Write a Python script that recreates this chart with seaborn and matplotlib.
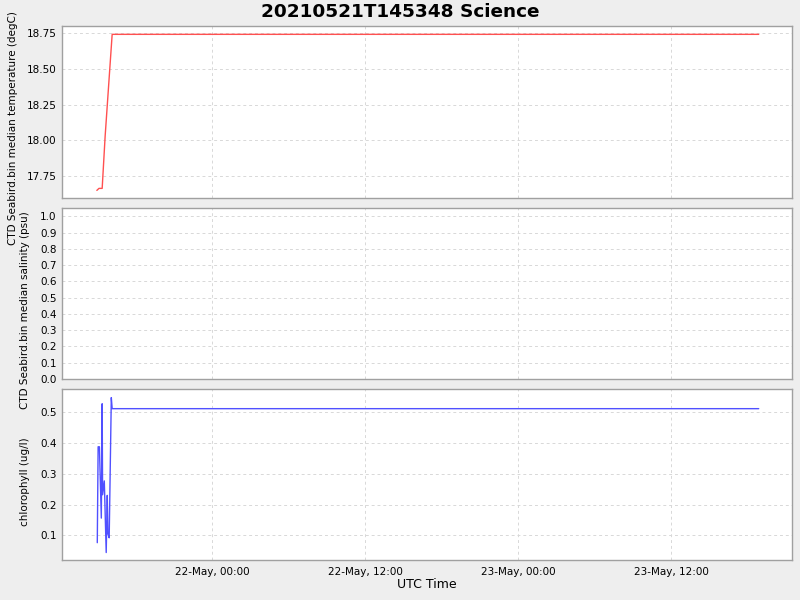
import matplotlib
matplotlib.use("Agg")
import matplotlib.pyplot as plt
import matplotlib.dates as mdates
import seaborn as sns
import pandas as pd
import numpy as np

# ---- data ----
temp_times = ["2021-05-21 14:57", "2021-05-21 15:07", "2021-05-21 15:22",
              "2021-05-21 15:36", "2021-05-21 16:09", "2021-05-23 18:51"]
temp_vals = [17.652, 17.666, 17.666, 18.03, 18.739, 18.739]

sal_times = []
sal_vals = []

chl_times = ["2021-05-21 14:59", "2021-05-21 15:03", "2021-05-21 15:09",
             "2021-05-21 15:18", "2021-05-21 15:22", "2021-05-21 15:24",
             "2021-05-21 15:32", "2021-05-21 15:41", "2021-05-21 15:46",
             "2021-05-21 15:49", "2021-05-21 15:55", "2021-05-21 16:05",
             "2021-05-21 16:09", "2021-05-23 18:51"]
chl_vals = [0.076, 0.388, 0.388, 0.156, 0.528, 0.232, 0.277, 0.044,
            0.230, 0.105, 0.092, 0.548, 0.512, 0.512]

title = "20210521T145348 Science"
ylabels = ["CTD Seabird.bin median temperature (degC)",
           "CTD Seabird.bin median salinity (psu)",
           "chlorophyll (ug/l)"]
xlabel = "UTC Time"
x_start = "2021-05-21 12:13"
x_end = "2021-05-23 21:29"

sns.set_style("white", {
    "axes.facecolor": "white",
    "figure.facecolor": "#EEEEEE",
    "axes.edgecolor": "#A0A0A0",
    "grid.color": "#D8D8D8",
    "grid.linestyle": "--",
    "text.color": "black",
    "axes.labelcolor": "black",
    "xtick.color": "black",
    "ytick.color": "black",
})
plt.rcParams["font.family"] = ["DejaVu Sans"]

temp_df = pd.DataFrame({"time": pd.to_datetime(temp_times), "value": temp_vals})
chl_df = pd.DataFrame({"time": pd.to_datetime(chl_times), "value": chl_vals})

fig = plt.figure(figsize=(8, 6), dpi=100)
fig.patch.set_facecolor("#EEEEEE")

W, H = 800.0, 600.0
left, right = 62 / W, 792.3 / W
boxes = [(26.3, 198.0), (208.3, 379.0), (389.3, 560.0)]
axes = []
for top, bot in boxes:
    ax = fig.add_axes([left, 1 - bot / H, right - left, (bot - top) / H])
    axes.append(ax)

ax1, ax2, ax3 = axes

sns.lineplot(data=temp_df, x="time", y="value", ax=ax1, color="#FF5050",
             linewidth=1.0, estimator=None)
sns.lineplot(data=chl_df, x="time", y="value", ax=ax3, color="#5050FF",
             linewidth=1.0, estimator=None)

ax1.set_ylim(17.599, 18.795)
ax1.set_yticks([17.75, 18.00, 18.25, 18.50, 18.75])
ax1.yaxis.set_major_formatter(matplotlib.ticker.FormatStrFormatter("%.2f"))
ax2.set_ylim(0, 1.049)
ax2.set_yticks(np.round(np.arange(0, 1.01, 0.1), 1))
ax2.yaxis.set_major_formatter(matplotlib.ticker.FormatStrFormatter("%.1f"))
ax3.set_ylim(0.0197, 0.575)
ax3.set_yticks([0.1, 0.2, 0.3, 0.4, 0.5])
ax3.yaxis.set_major_formatter(matplotlib.ticker.FormatStrFormatter("%.1f"))

xs, xe = pd.Timestamp(x_start), pd.Timestamp(x_end)
label_pos = [(18, 128), (30, 310), (30, 482)]
for i, ax in enumerate(axes):
    ax.set_xlim(xs, xe)
    ax.xaxis.set_major_locator(mdates.HourLocator(byhour=[0, 12]))
    ax.xaxis.set_major_formatter(mdates.DateFormatter("%d-%b, %H:%M"))
    ax.grid(True, which="major", color="#D8D8D8", linestyle=(0, (3, 3)), linewidth=0.7)
    for s in ax.spines.values():
        s.set_visible(True)
        s.set_color("#A0A0A0")
        s.set_linewidth(1.0)
    ax.tick_params(axis="y", which="major", length=2, width=0.8, color="#A0A0A0",
                   labelcolor="black", labelsize=7.5, pad=2)
    ax.set_xlabel("")
    ax.set_ylabel(ylabels[i], fontsize=7.5, color="black")
    px, py = label_pos[i]
    ax.yaxis.set_label_coords(px / W, 1 - py / H, transform=fig.transFigure)
    if i < 2:
        ax.tick_params(axis="x", which="major", length=0, labelbottom=False)
    else:
        ax.tick_params(axis="x", which="major", length=3, width=0.8, color="#A0A0A0",
                       labelcolor="black", labelsize=7.5, pad=2)

fig.text(427 / W, 1 - 585 / H, xlabel, ha="center", va="center", fontsize=9,
         color="black")
fig.text(400 / W, 1 - 12 / H, title, ha="center", va="center", fontsize=13.3,
         fontweight="bold", color="black")

fig.savefig("out.png", dpi=100, facecolor=fig.get_facecolor())
